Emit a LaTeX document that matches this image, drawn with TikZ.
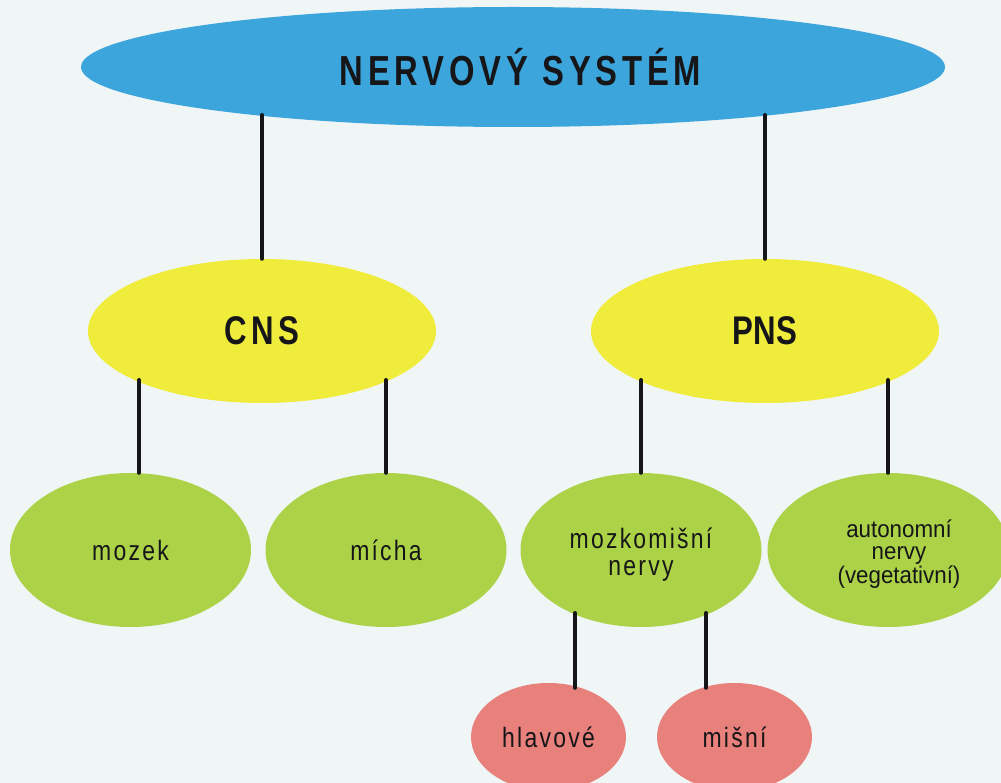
\documentclass[tikz,border=0pt]{standalone}
\usepackage{fontspec}
\usetikzlibrary{shapes.geometric}
\setmainfont{Liberation Sans}
\newfontfamily\titlefont[FakeStretch=0.78,LetterSpace=11.5]{Liberation Sans}
\newfontfamily\cnsfont[FakeStretch=0.78,LetterSpace=12]{Liberation Sans}
\newfontfamily\pnsfont[FakeStretch=0.78]{Liberation Sans}
\newfontfamily\labfont[FakeStretch=0.82,LetterSpace=8]{Liberation Sans}
\newfontfamily\autfont[FakeStretch=0.93]{Liberation Sans}
\definecolor{bg}{RGB}{240,245,246}
\definecolor{cblue}{RGB}{59,165,220}
\definecolor{cyellow}{RGB}{240,236,60}
\definecolor{cgreen}{RGB}{172,210,72}
\definecolor{cred}{RGB}{232,128,124}
\definecolor{ink}{RGB}{22,22,24}
\tikzset{
  ell/.style={ellipse,inner sep=0pt,text=ink,align=center},
  blueell/.style={ell,fill=cblue,minimum width=864pt,minimum height=120pt},
  yellowell/.style={ell,fill=cyellow,minimum width=348pt,minimum height=144pt},
  greenell/.style={ell,fill=cgreen,minimum width=241pt,minimum height=154pt},
  redell/.style={ell,fill=cred,minimum width=155pt,minimum height=108pt},
  conn/.style={draw=ink,line width=4pt,line cap=round},
  labtxt/.style={font=\labfont\fontsize{28}{27}\selectfont},
}
\begin{document}
\begin{tikzpicture}[x=1pt,y=-1pt]
\fill[bg] (0,0) rectangle (1001,783);
\useasboundingbox (0,0) rectangle (1001,783);
\node[blueell] (top) at (513,67) {\titlefont\bfseries\fontsize{42}{42}\selectfont\hspace*{15pt}NERVOVÝ SYSTÉM};
\node[yellowell] (cns) at (262,331) {\cnsfont\bfseries\fontsize{40}{40}\selectfont CNS};
\node[yellowell] (pns) at (765,331) {\pnsfont\bfseries\fontsize{40}{40}\selectfont PNS};
\node[greenell,labtxt] (mozek) at (130.5,550) {mozek};
\node[greenell,labtxt] (micha) at (386,550) {mícha};
\node[greenell,labtxt] (mozkom) at (641,550) {\raisebox{-6pt}[\height][\depth]{\begin{tabular}{@{}c@{}}mozkomišní\\nervy\end{tabular}}};
\node[greenell,font=\autfont\fontsize{24}{22}\selectfont] (auton) at (888,550) {\hspace*{22pt}\raisebox{-5pt}[\height][\depth]{\begin{tabular}{@{}c@{}}autonomní\\nervy\\(vegetativní)\end{tabular}}};
\node[redell,labtxt] (hlavove) at (548.5,737) {hlavové};
\node[redell,labtxt] (misni) at (734.5,737) {mišní};
\draw[conn] ([xshift=-251pt,yshift=-48pt]top.center) -- (cns.north);
\draw[conn] ([xshift=252pt,yshift=-48pt]top.center) -- (pns.north);
\draw[conn] ([xshift=-123pt,yshift=-49pt]cns.center) -- ([xshift=8.5pt]mozek.north);
\draw[conn] ([xshift=124pt,yshift=-49pt]cns.center) -- (micha.north);
\draw[conn] ([xshift=-124pt,yshift=-49pt]pns.center) -- (mozkom.north);
\draw[conn] ([xshift=123pt,yshift=-49pt]pns.center) -- (auton.north);
\draw[conn] ([xshift=-66pt,yshift=-63pt]mozkom.center) -- ([xshift=26.5pt,yshift=-5pt]hlavove.north);
\draw[conn] ([xshift=65pt,yshift=-63pt]mozkom.center) -- ([xshift=-28.5pt,yshift=-5pt]misni.north);
\end{tikzpicture}
\end{document}
